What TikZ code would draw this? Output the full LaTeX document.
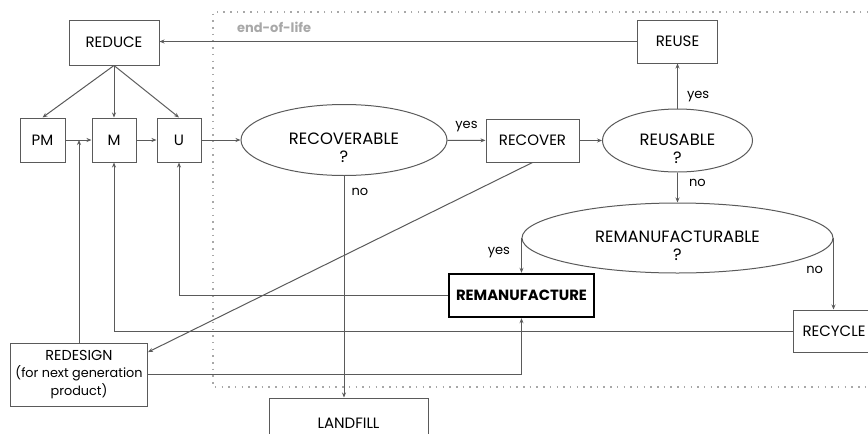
\documentclass[tikz,border=0pt]{standalone}
\usepackage{fontspec}
\setmainfont{Poppins}
\usetikzlibrary{positioning, shapes.geometric, arrows.meta}

\definecolor{linegray}{HTML}{5A5A5A}
\definecolor{dotgray}{HTML}{A8A8A8}

\tikzset{
	box/.style={draw=linegray, line width=0.5pt, inner sep=0pt, align=center, font=\fontsize{7.5}{8.5}\selectfont},
	thickbox/.style={box, draw=black, line width=1.2pt, font=\fontsize{7.4}{8.5}\selectfont\bfseries},
	decision/.style={ellipse, draw=linegray, line width=0.5pt, inner sep=0pt},
	qtext/.style={yshift=-4pt, align=center, font=\fontsize{8.2}{9}\selectfont},
	arr/.style={draw=linegray, line width=0.5pt, -{Stealth[length=2.5pt,width=2pt]}},
	lbl/.style={inner sep=0.5pt, font=\fontsize{6.5}{8}\selectfont},
	eol/.style={inner sep=0pt, text=dotgray, font=\fontsize{6.5}{8}\selectfont\bfseries},
	boundary/.style={draw=dotgray, line width=0.75pt, dash pattern=on 0.75pt off 2.6pt}
}

\begin{document}
\begin{tikzpicture}[x=0.5pt, y=-0.5pt]
	\useasboundingbox (0,0) rectangle (868,434);
	\draw[boundary] (868,12) -- (213,12) -- (213,387) -- (868,387);

	\node[box, minimum width=45pt, minimum height=22.5pt] (reduce) at (114,42.5) {REDUCE};
	\node[box, minimum width=22.5pt, minimum height=22pt] (pm) at (42.5,140) {PM};
	\node[box, minimum width=22pt, minimum height=22pt] (m) at (114,140) {M};
	\node[box, minimum width=22pt, minimum height=22pt] (u) at (179,140) {U};
	\node[decision, minimum width=103pt, minimum height=35.5pt, label={[qtext]center:RECOVERABLE\\?}] (recoverable) at (344,140) {};
	\node[box, minimum width=46.5pt, minimum height=21.5pt] (recover) at (532.5,140.5) {RECOVER};
	\node[decision, minimum width=75pt, minimum height=31.5pt, label={[qtext]center:REUSABLE\\?}] (reusable) at (677.5,140.5) {};
	\node[box, minimum width=40pt, minimum height=21.5pt] (reuse) at (677.5,41.5) {REUSE};
	\node[decision, minimum width=155.5pt, minimum height=35pt, label={[qtext]center:REMANUFACTURABLE\\?}] (remable) at (677.5,238) {};
	\node[thickbox, minimum width=72.5pt, minimum height=21.5pt] (reman) at (521.5,295.5) {REMANUFACTURE};
	\node[box, minimum width=41pt, minimum height=21pt] (recycle) at (834,331) {RECYCLE};
	\node[box, minimum width=68.5pt, minimum height=31.5pt, font=\fontsize{7.2}{8.6}\selectfont] (redesign) at (79,374.5)
		{REDESIGN\\{\fontsize{6.4}{8.6}\selectfont (for next generation}\\{\fontsize{6.4}{8.6}\selectfont product)}};
	\node[box, minimum width=79.5pt, minimum height=25pt] (landfill) at (348.5,423) {LANDFILL};

	% end-of-life loop back
	\draw[arr] (reuse.west) -- node[eol, pos=0.76, above=4pt] {end-of-life} (reduce.east |- reuse.west);

	\draw[arr] (reduce.south) -- (pm.north);
	\draw[arr] (reduce.south) -- (m.north);
	\draw[arr] (reduce.south) -- (u.north);
	\draw[arr] (pm) -- (m);
	\draw[arr] (m) -- (u);
	\draw[arr] (u) -- (recoverable);

	\draw[arr] (recoverable) -- node[lbl, above=3.5pt] {yes} (recover);
	\draw[arr] (recoverable.south) -- node[lbl, pos=0.07, right=3pt] {no} (recoverable.south |- landfill.north);
	\draw[arr] (recover) -- (reusable);
	\draw[arr] (recover.south) -- (redesign.18);
	\draw[arr] (reusable.north) -- node[lbl, pos=0.26, right=4pt] {yes} (reuse.south);
	\draw[arr] (reusable.south) -- node[lbl, pos=0.35, right=5pt] {no} (remable.north);
	\draw[arr] (remable.west) -- node[lbl, pos=0.42, left=5pt] {yes} (remable.west |- reman.north);
	\draw[arr] (remable.east) -- node[lbl, pos=0.44, left=4.5pt] {no} (remable.east |- recycle.north);

	% feedback lines
	\draw[arr] (reman.west) -| (u.south);
	\draw[arr] (recycle.west) -| (m.south);
	\draw[arr] (redesign.north) -- (redesign.north |- pm.east);
	\draw[arr] (redesign.east) -| (reman.south);
\end{tikzpicture}
\end{document}
